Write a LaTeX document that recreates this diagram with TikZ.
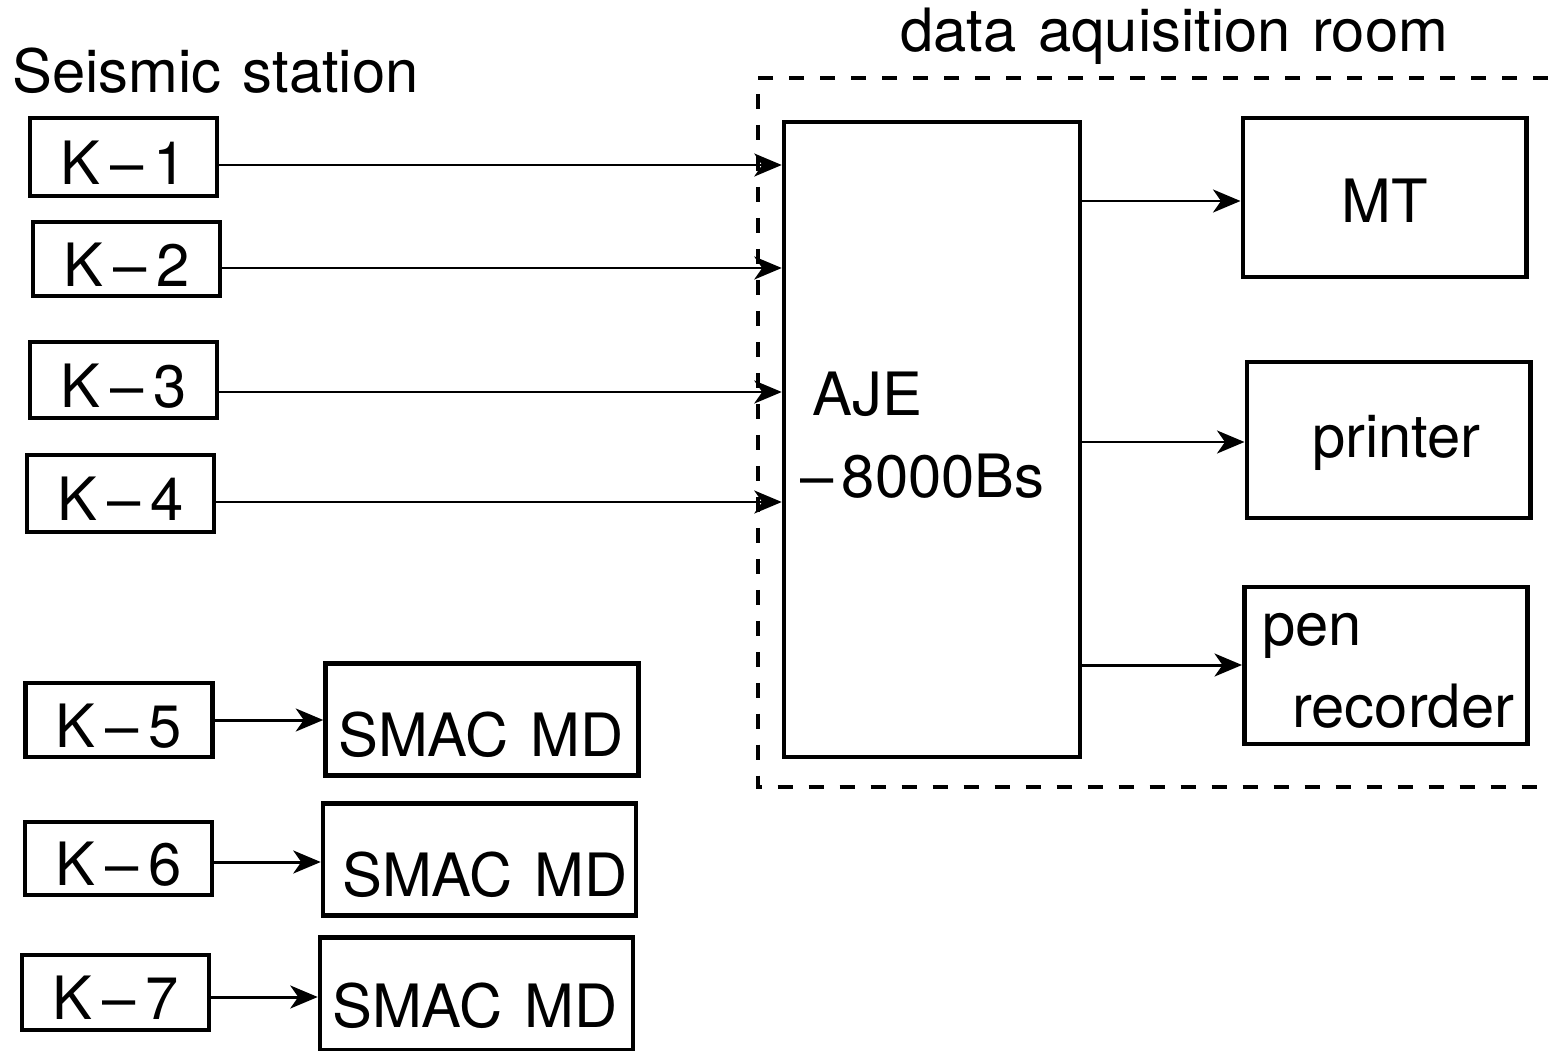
\documentclass[tikz,border=0pt]{standalone}
\usepackage{fontspec}
\setmainfont{TeX Gyre Heros}
\usetikzlibrary{arrows.meta}
\newcommand\diagfont{\fontsize{34}{40}\selectfont\spaceskip 0.36em plus 0.1em\relax}
\begin{document}
\begin{tikzpicture}[x=0.02cm,y=-0.02cm,
  txt/.style={font=\diagfont},
  box/.style={draw, line width=2.6pt, inner sep=0pt, txt},
  kbox/.style={box, minimum width=3.74cm, minimum height=1.5cm, text height=31pt, text depth=0pt},
  smac/.style={box, minimum width=6.26cm, minimum height=2.25cm},
  outbox/.style={box, minimum width=5.67cm, minimum height=3.14cm},
  lbl/.style={inner sep=0pt, anchor=base west, txt},
  arr/.style={line width=1.7pt, -{Stealth[length=0.55cm,width=0.46cm,inset=0.16cm]}},
  roomframe/.style={line width=2.4pt, dash pattern=on 0.3cm off 0.32cm}]
\useasboundingbox (0,0) rectangle (1548,1051);

% titles
\node[lbl] (t1) at (12,92) {Seismic station};
\node[lbl] (t2) at (900,52) {data aquisition room};

% dashed room frame
\coordinate (r1) at (1548,78);
\coordinate (r2) at (758,78);
\coordinate (r3) at (758,787);
\coordinate (r4) at (1548,787);
\draw[roomframe] (r1) -- (r2) -- (r3) -- (r4);

% seismic station boxes
\node[kbox, minimum height=1.56cm] (k1) at (123.5,157) {K\,–\,1};
\node[kbox, minimum height=1.48cm] (k2) at (126.5,259) {K\,–\,2};
\node[kbox, minimum height=1.52cm] (k3) at (123.5,380) {K\,–\,3};
\node[kbox, minimum height=1.54cm] (k4) at (120.5,493.5) {K\,–\,4};
\node[kbox, minimum height=1.48cm] (k5) at (119,720) {K\,–\,5};
\node[kbox, minimum height=1.46cm] (k6) at (118.5,858.5) {K\,–\,6};
\node[kbox, minimum height=1.50cm] (k7) at (115.5,992.5) {K\,–\,7};

% SMAC MD boxes
\node[smac] (s1) at (482,719.5) {};
\node[lbl] (s1t) at (338,756) {SMAC MD};
\node[smac] (s2) at (479.5,859.5) {};
\node[lbl] (s2t) at (342,896) {SMAC MD};
\node[smac] (s3) at (476.5,994) {};
\node[lbl] (s3t) at (332,1027) {SMAC MD};

% AJE
\node[box, minimum width=5.92cm, minimum height=12.7cm] (aje) at (932,439.5) {};
\node[lbl] (ajet1) at (812,415) {AJE};
\node[lbl] (ajet2) at (800,497) {–\kern0.14em 8000Bs};

% outputs
\node[outbox, minimum height=3.18cm, text height=28pt, text depth=0pt] (mt) at (1384.5,197.5) {MT};
\node[outbox, minimum height=3.12cm] (pr) at (1388.5,440) {};
\node[lbl] (prt) at (1312,457) {printer};
\node[outbox] (pen) at (1386,665.5) {};
\node[lbl] (pent1) at (1262,645) {pen};
\node[lbl] (pent2) at (1292,727) {recorder};

% connectors
\draw[arr] (k1.east |- 0,165) -- (aje.west |- 0,165);
\draw[arr] (k2.east |- 0,268) -- (aje.west |- 0,268);
\draw[arr] (k3.east |- 0,392) -- (aje.west |- 0,392);
\draw[arr] (k4.east |- 0,502) -- (aje.west |- 0,502);
\draw[arr] (k5.east |- 0,720) -- (s1.west |- 0,720);
\draw[arr] (k6.east |- 0,862) -- (s2.west |- 0,862);
\draw[arr] (k7.east |- 0,997) -- (s3.west |- 0,997);
\draw[arr] (aje.east |- 0,201) -- (mt.west |- 0,201);
\draw[arr] (aje.east |- 0,442) -- (pr.west |- 0,442);
\draw[arr] (aje.east |- 0,665) -- (pen.west |- 0,665);
\end{tikzpicture}
\end{document}
